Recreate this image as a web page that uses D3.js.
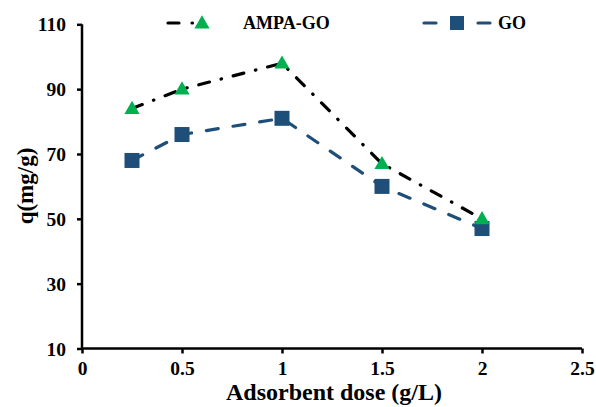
<!DOCTYPE html>
<html>
  <head>
    <meta charset="utf-8">
    <title>Adsorbent dose</title>
    <script src="https://d3js.org/d3.v7.min.js"></script>
    <style>
      body { margin: 0; background: #fff; }
      text { font-family: "Liberation Serif", "Times New Roman", serif; font-weight: bold; fill: #000; }
    </style>
  </head>
  <body>
    <svg width="596" height="407"></svg>
  <script>
    // data
    var doses = [0.25, 0.5, 1, 1.5, 2];
    var ampaGO = [84, 90, 98, 67, 50];
    var go = [68, 76, 81, 60, 47];
    var xTicks = [0, 0.5, 1, 1.5, 2, 2.5];
    var yTicks = [10, 30, 50, 70, 90, 110];

    var svg = d3.select("svg");

    var x = d3.scaleLinear().domain([0, 2.5]).range([82, 582]),
        y = d3.scaleLinear().domain([10, 110]).range([348.5, 24.3]);

    // y axis
    var yAxis = svg.append("g")
      .attr("transform", "translate(" + x(0) + ",0)")
      .call(d3.axisLeft(y).tickValues(yTicks).tickSize(5).tickPadding(11).tickFormat(d3.format("d")));
    yAxis.selectAll("text").style("font-size", "19.5px").attr("dy", "0.34em");

    // x axis
    var xAxis = svg.append("g")
      .attr("transform", "translate(0," + y(10) + ")")
      .call(d3.axisBottom(x).tickValues(xTicks).tickSize(5).tickPadding(8).tickFormat(function(d) { return d; }));
    xAxis.selectAll("text").style("font-size", "19.5px").attr("dy", "0.68em");

    svg.selectAll(".domain, .tick line")
      .attr("stroke", "#000")
      .attr("stroke-width", 2.5);
    // plain axis lines (no end caps)
    yAxis.select(".domain").attr("d", "M0," + y(110) + "V" + y(10));
    xAxis.select(".domain").attr("d", "M" + x(0) + ",0H" + x(2.5));

    // titles
    svg.append("text")
      .attr("x", 334).attr("y", 400)
      .attr("text-anchor", "middle")
      .style("font-size", "24px")
      .text("Adsorbent dose (g/L)");

    svg.append("text")
      .attr("transform", "translate(33,186) rotate(-90)")
      .attr("text-anchor", "middle")
      .style("font-size", "23px")
      .text("q(mg/g)");

    var line = d3.line()
      .x(function(d) { return x(d[0]); })
      .y(function(d) { return y(d[1]); });

    var ampaPts = doses.map(function(d, i) { return [d, ampaGO[i]]; }),
        goPts = doses.map(function(d, i) { return [d, go[i]]; });

    var blue = "#1F4E79", green = "#00B050";
    var dashGO = "12,15", dashAMPA = "11,12,0.5,12";

    // GO series
    svg.append("path")
      .datum(goPts)
      .attr("d", line)
      .attr("fill", "none")
      .attr("stroke", blue)
      .attr("stroke-width", 3.2)
      .attr("stroke-linecap", "round")
      .attr("stroke-dasharray", dashGO);

    // AMPA-GO series
    svg.append("path")
      .datum(ampaPts)
      .attr("d", line)
      .attr("fill", "none")
      .attr("stroke", "#000")
      .attr("stroke-width", 3.2)
      .attr("stroke-linecap", "round")
      .attr("stroke-dasharray", dashAMPA);

    var tri = d3.symbol().type(d3.symbolTriangle).size(100);

    svg.selectAll(".sq")
      .data(goPts)
      .enter().append("rect")
      .attr("class", "sq")
      .attr("x", function(d) { return x(d[0]) - 7.5; })
      .attr("y", function(d) { return y(d[1]) - 7.5; })
      .attr("width", 15).attr("height", 15)
      .attr("fill", blue);

    svg.selectAll(".tri")
      .data(ampaPts)
      .enter().append("path")
      .attr("class", "tri")
      .attr("d", tri)
      .attr("transform", function(d) { return "translate(" + x(d[0]) + "," + (y(d[1]) + 1) + ")"; })
      .attr("fill", green);

    // legend
    var lg = svg.append("g");
    lg.append("path")
      .attr("d", "M168,23H222")
      .attr("stroke", "#000").attr("stroke-width", 3.2)
      .attr("stroke-linecap", "round")
      .attr("stroke-dasharray", "11,13,0.5,9,0,30");
    lg.append("path")
      .attr("d", tri)
      .attr("transform", "translate(202,24)")
      .attr("fill", green);
    lg.append("text")
      .attr("x", 243).attr("y", 29)
      .style("font-size", "18px")
      .text("AMPA-GO");

    lg.append("path")
      .attr("d", "M424,23H490")
      .attr("stroke", blue).attr("stroke-width", 3.2)
      .attr("stroke-linecap", "round")
      .attr("stroke-dasharray", "12,42,12");
    lg.append("rect")
      .attr("x", 450).attr("y", 16)
      .attr("width", 14).attr("height", 14)
      .attr("fill", blue);
    lg.append("text")
      .attr("x", 498).attr("y", 29)
      .style("font-size", "18px")
      .text("GO");
  </script>
  </body>
</html>
